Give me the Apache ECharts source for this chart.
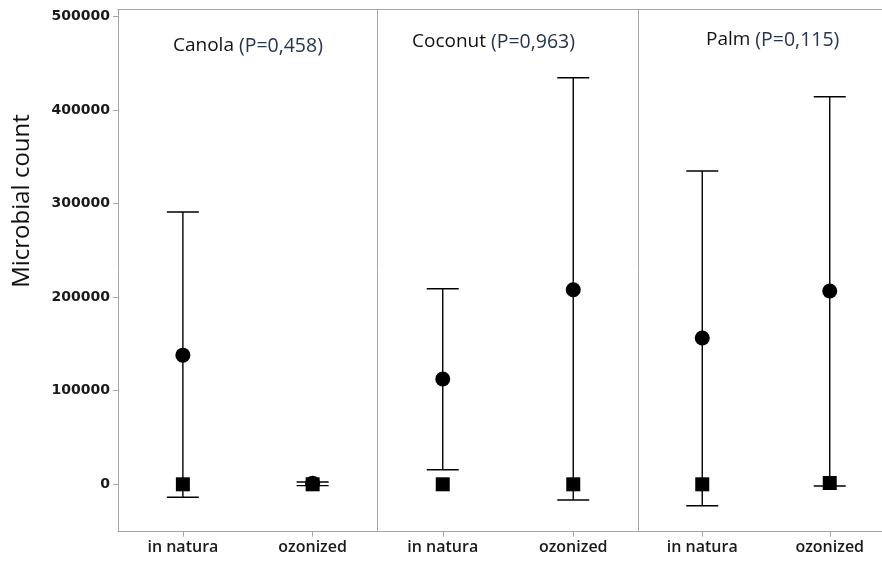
<!DOCTYPE html>
<html>
<head>
<meta charset="utf-8">
<script src="https://cdn.jsdelivr.net/npm/echarts@6/dist/echarts.min.js"></script>
<style>
html,body{margin:0;padding:0;background:#fff;overflow:hidden;}
#chart{width:882px;height:562px;overflow:hidden;}
</style>
</head>
<body>
<div id="chart"></div>
<script>
// ---- data ----
const categories = ['in natura', 'ozonized'];
const panels = ['Canola', 'Coconut', 'Palm'];
const pLabels = ['(P=0,458)', '(P=0,963)', '(P=0,115)'];
const yTicks = [0, 100000, 200000, 300000, 400000, 500000];

// circle (mean) per panel: [in natura, ozonized]
const canolaMean = [138000, 1200];
const coconutMean = [112500, 207800];
const palmMean = [156300, 206500];
// error bar lower ends
const canolaLow = [-13900, -1400];
const coconutLow = [15600, -16800];
const palmLow = [-22900, -1800];
// error bar upper ends
const canolaHigh = [290900, 2400];
const coconutHigh = [208900, 434400];
const palmHigh = [334700, 414100];
// square markers
const canolaSquare = [0, 0];
const coconutSquare = [0, 0];
const palmSquare = [0, 1400];

const means = [canolaMean, coconutMean, palmMean];
const lows = [canolaLow, coconutLow, palmLow];
const highs = [canolaHigh, coconutHigh, palmHigh];
const squares = [canolaSquare, coconutSquare, palmSquare];

// ---- layout / style ----
const axisGray = '#a6a6a6';
const gridTop = 9.5, gridHeight = 522.2;
const gridLefts = [118, 377.5, 638.5];
const gridWidths = [259.5, 261, 255];
const titleLefts = [168, 407, 701];
const titleTops = [31, 27, 25];
const yMin = -50640, yMax = 507300;

const chart = echarts.init(document.getElementById('chart'), null, {renderer: 'canvas', width: 882, height: 562});

const grids = [], xAxes = [], yAxes = [], series = [], titles = [];
panels.forEach((p, i) => {
  grids.push({left: gridLefts[i], top: gridTop, width: gridWidths[i], height: gridHeight,
    show: false, containLabel: false, outerBoundsMode: 'none'});
  xAxes.push({type: 'category', gridIndex: i, data: categories, boundaryGap: true, position: 'bottom',
    axisLine: {show: true, onZero: false, lineStyle: {color: axisGray, width: 1}},
    axisTick: {show: true, alignWithLabel: true, length: 5, lineStyle: {color: axisGray}},
    axisLabel: {color: '#1a1a1a', fontFamily: 'Open Sans', fontWeight: 600, fontSize: 16, margin: 8},
    splitLine: {show: false}});
  // top frame line
  xAxes.push({type: 'category', gridIndex: i, data: categories, boundaryGap: true, position: 'top',
    axisLine: {show: true, onZero: false, lineStyle: {color: axisGray, width: 1}},
    axisTick: {show: false}, axisLabel: {show: false}, splitLine: {show: false}});
  yAxes.push({type: 'value', gridIndex: i, min: yMin, max: yMax, position: 'left',
    axisLine: {show: true, onZero: false, lineStyle: {color: axisGray, width: 1}},
    axisTick: {show: i === 0, length: 5, lineStyle: {color: axisGray}, customValues: yTicks},
    axisLabel: {show: i === 0, color: '#1a1a1a', fontFamily: 'DejaVu Sans', fontWeight: 'bold', fontSize: 14, margin: 8,
      customValues: yTicks, formatter: v => String(Math.round(v))},
    splitLine: {show: false}});
  titles.push({text: p + ' {p|' + pLabels[i] + '}', left: titleLefts[i], top: titleTops[i],
    textStyle: {fontFamily: 'Open Sans', fontSize: 19, fontWeight: 'normal', color: '#111',
      rich: {p: {fontFamily: 'Open Sans', fontSize: 19.5, color: '#26344f'}}}});

  series.push({
    type: 'custom', xAxisIndex: 2 * i, yAxisIndex: i, z: 2, silent: true,
    data: categories.map((c, j) => [j, lows[i][j], highs[i][j]]),
    encode: {x: 0, y: [1, 2]},
    renderItem: function (params, api) {
      const lo = api.coord([api.value(0), api.value(1)]);
      const hi = api.coord([api.value(0), api.value(2)]);
      const x = lo[0], hw = 16;
      const st = {stroke: '#000', lineWidth: 1.4};
      return {type: 'group', children: [
        {type: 'line', shape: {x1: x, y1: hi[1], x2: x, y2: lo[1]}, style: st},
        {type: 'line', shape: {x1: x - hw, y1: hi[1], x2: x + hw, y2: hi[1]}, style: st},
        {type: 'line', shape: {x1: x - hw, y1: lo[1], x2: x + hw, y2: lo[1]}, style: st}
      ]};
    }
  });
  series.push({
    type: 'scatter', xAxisIndex: 2 * i, yAxisIndex: i, z: 3, silent: true,
    symbol: 'circle', symbolSize: 15, itemStyle: {color: '#000', opacity: 1},
    data: categories.map((c, j) => [j, means[i][j]])
  });
  series.push({
    type: 'scatter', xAxisIndex: 2 * i, yAxisIndex: i, z: 4, silent: true,
    symbol: 'rect', symbolSize: 14, itemStyle: {color: '#000', opacity: 1},
    data: categories.map((c, j) => [j, squares[i][j]])
  });
});

chart.setOption({
  animation: false,
  backgroundColor: '#fff',
  title: titles,
  grid: grids,
  xAxis: xAxes,
  yAxis: yAxes,
  series: series,
  graphic: [{
    type: 'text', x: 22, y: 201, rotation: Math.PI / 2,
    style: {text: 'Microbial count', fontFamily: 'Open Sans', fontSize: 24, fill: '#111',
      align: 'center', verticalAlign: 'middle'}
  }]
});
</script>
</body>
</html>
